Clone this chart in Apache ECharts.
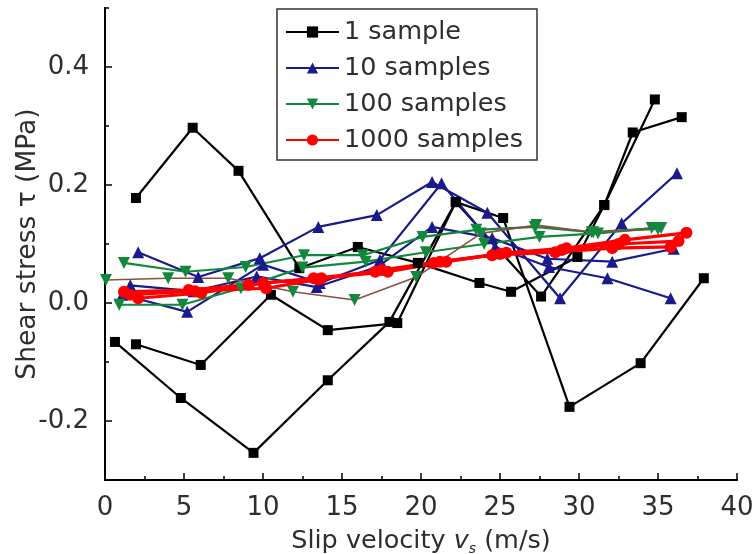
<!DOCTYPE html>
<html>
<head>
<meta charset="utf-8">
<script src="https://cdn.jsdelivr.net/npm/echarts@6/dist/echarts.min.js"></script>
<style>html,body{margin:0;padding:0;background:#fff;}#chart{width:755px;height:554px;}</style>
</head>
<body>
<div id="chart"></div>
<script>
// ---- data: [slip velocity (m/s), shear stress (MPa)] ----
const legendNames = ['1 sample', '10 samples', '100 samples', '1000 samples'];
const xLabelValues = [0, 5, 10, 15, 20, 25, 30, 35, 40];
const yLabelValues = [-0.2, 0.0, 0.2, 0.4];

const black1 = [[1.96,0.178],[5.55,0.297],[8.45,0.224],[12.3,0.059],[16.0,0.095],[19.8,0.068],[23.7,0.034],[25.7,0.019],[29.9,0.078],[31.6,0.166],[34.8,0.345]];
const black2 = [[1.96,-0.070],[6.06,-0.105],[10.5,0.014],[14.1,-0.046],[18.5,-0.034],[22.2,0.171],[27.6,0.011],[31.6,0.166],[33.4,0.289],[36.5,0.315]];
const black3 = [[0.63,-0.066],[4.8,-0.161],[9.4,-0.254],[14.1,-0.131],[18.0,-0.032],[22.2,0.171],[25.2,0.144],[29.4,-0.176],[33.9,-0.102],[37.9,0.042]];

const blue1 = [[2.1,0.086],[5.9,0.044],[9.8,0.076],[13.5,0.129],[17.2,0.149],[20.7,0.205],[24.2,0.153],[28.8,0.008],[32.7,0.135],[36.2,0.220]];
const blue2 = [[1.1,0.014],[5.2,-0.015],[10.0,0.065],[13.6,0.034],[17.4,0.073],[21.3,0.203],[24.7,0.095],[28.1,0.061],[31.8,0.042],[35.8,0.008]];
const blue3 = [[1.6,0.030],[5.6,0.020],[9.6,0.045],[13.4,0.027],[17.3,0.062],[20.7,0.129],[24.5,0.110],[28.0,0.075],[32.1,0.070],[36.0,0.092]];

const green1 = [[1.2,0.068],[5.1,0.053],[8.9,0.061],[12.6,0.081],[16.3,0.081],[20.1,0.112],[23.5,0.124],[27.2,0.129],[30.8,0.120],[35.2,0.127]];
const green2 = [[0.9,-0.003],[4.9,-0.003],[8.6,0.025],[12.5,0.060],[16.5,0.070],[20.3,0.086],[24.0,0.100],[27.5,0.112],[31.2,0.118],[34.6,0.127]];
const green3 = [[0.06,0.039],[4.0,0.042],[7.8,0.042],[11.9,0.019],[15.8,0.005],[19.7,0.044],[23.8,0.118],[27.3,0.132],[30.9,0.120],[35.0,0.125]];

const red1 = [[1.2,0.019],[5.3,0.022],[9.1,0.031],[13.2,0.042],[17.1,0.053],[20.8,0.068],[24.5,0.081],[28.5,0.086],[32.1,0.093],[35.8,0.095]];
const red2 = [[2.1,0.008],[6.1,0.017],[10.0,0.034],[13.7,0.042],[17.9,0.053],[21.6,0.070],[25.4,0.085],[29.2,0.093],[32.9,0.107],[36.8,0.119]];
const red3 = [[1.6,0.014],[5.7,0.020],[10.2,0.025],[13.5,0.040],[17.5,0.056],[21.2,0.070],[25.0,0.083],[28.9,0.090],[32.5,0.100],[36.3,0.105]];

// ---- styles ----
const FONT = 'DejaVu Sans';
const TXT = '#2e2e2e';
const C_BLACK = '#000000', C_BLUE = '#1a1a8c', C_GREEN = '#12883c', C_RED = '#ff0000', C_BROWN = '#8a5040';

function mk(name, data, color, symbol, size, width, lineColor, rotate) {
  return {
    name: name, type: 'line', data: data,
    symbol: symbol, symbolSize: size, symbolRotate: rotate || 0,
    showSymbol: true, animation: false,
    itemStyle: { color: color },
    lineStyle: { color: lineColor || color, width: width },
    emphasis: { disabled: true }
  };
}

const series = [
  mk(legendNames[0], black1, C_BLACK, 'rect', 10, 2.2),
  mk(legendNames[0], black2, C_BLACK, 'rect', 10, 2.2),
  mk(legendNames[0], black3, C_BLACK, 'rect', 10, 2.2),
  mk(legendNames[1], blue1, C_BLUE, 'triangle', 12, 2.2),
  mk(legendNames[1], blue2, C_BLUE, 'triangle', 12, 2.2),
  mk(legendNames[1], blue3, C_BLUE, 'triangle', 12, 2.2),
  mk(legendNames[2], green1, C_GREEN, 'triangle', 12, 2.2, null, 180),
  mk(legendNames[2], green2, C_GREEN, 'triangle', 12, 2.2, null, 180),
  mk(legendNames[2], green3, C_GREEN, 'triangle', 12, 1.6, C_BROWN, 180),
  mk(legendNames[3], red1, C_RED, 'circle', 12, 3.2),
  mk(legendNames[3], red2, C_RED, 'circle', 12, 3.2),
  mk(legendNames[3], red3, C_RED, 'circle', 12, 3.2)
];

const labelStyle = { color: TXT, fontFamily: FONT, fontSize: 26 };

const chart = echarts.init(document.getElementById('chart'), null, { renderer: 'canvas' });
chart.setOption({
  animation: false,
  backgroundColor: '#ffffff',
  grid: { left: 105, right: 18, top: 8, bottom: 74, containLabel: false, outerBoundsMode: 'none' },
  legend: {
    data: legendNames,
    orient: 'vertical',
    left: 277, top: 9,
    padding: [10, 14, 7, 8],
    itemWidth: 53, itemHeight: 14, itemGap: 10,
    borderColor: '#333333', borderWidth: 1.5,
    selectedMode: false,
    textStyle: { color: TXT, fontFamily: FONT, fontSize: 25.5, lineHeight: 20 }
  },
  xAxis: [
    {
      type: 'value', min: 0, max: 40, interval: 2.5, position: 'bottom',
      axisLine: { show: true, onZero: false, lineStyle: { color: '#000', width: 2 } },
      axisTick: { show: true, inside: true, length: 4, lineStyle: { color: '#000', width: 1.5 } },
      axisLabel: Object.assign({ margin: 15, customValues: xLabelValues, formatter: v => String(v) }, labelStyle),
      splitLine: { show: false },
      name: 'Slip velocity {i|v}{s|s} (m/s)',
      nameLocation: 'middle', nameGap: 43,
      nameTextStyle: {
        color: TXT, fontFamily: FONT, fontSize: 25.5, lineHeight: 30,
        rich: {
          i: { fontFamily: FONT, fontSize: 25.5, fontStyle: 'italic', color: TXT, lineHeight: 30 },
          s: { fontFamily: FONT, fontSize: 14, fontStyle: 'italic', color: TXT, verticalAlign: 'bottom', lineHeight: 14 }
        }
      }
    },
    {
      type: 'value', min: 0, max: 40, interval: 2.5, position: 'bottom',
      axisLine: { show: true, onZero: false, lineStyle: { color: '#000', width: 2 } },
      axisTick: { show: true, inside: true, length: 7, customValues: xLabelValues, lineStyle: { color: '#000', width: 1.5 } },
      axisLabel: { show: false },
      splitLine: { show: false }
    }
  ],
  yAxis: [
    {
      type: 'value', min: -0.3, max: 0.5, interval: 0.1, position: 'left',
      axisLine: { show: true, onZero: false, lineStyle: { color: '#000', width: 2 } },
      axisTick: { show: true, inside: true, length: 4, lineStyle: { color: '#000', width: 1.5 } },
      axisLabel: Object.assign({ margin: 16, customValues: yLabelValues, formatter: v => v.toFixed(1) }, labelStyle),
      splitLine: { show: false },
      name: 'Shear stress \u03c4 (MPa)',
      nameLocation: 'middle', nameGap: 63, nameRotate: 90, nameMoveOverlap: false,
      nameTextStyle: { color: TXT, fontFamily: FONT, fontSize: 26.5 }
    },
    {
      type: 'value', min: -0.3, max: 0.5, interval: 0.1, position: 'left',
      axisLine: { show: true, onZero: false, lineStyle: { color: '#000', width: 2 } },
      axisTick: { show: true, inside: true, length: 7, customValues: yLabelValues, lineStyle: { color: '#000', width: 1.5 } },
      axisLabel: { show: false },
      splitLine: { show: false }
    }
  ],
  series: series
});
</script>
</body>
</html>
